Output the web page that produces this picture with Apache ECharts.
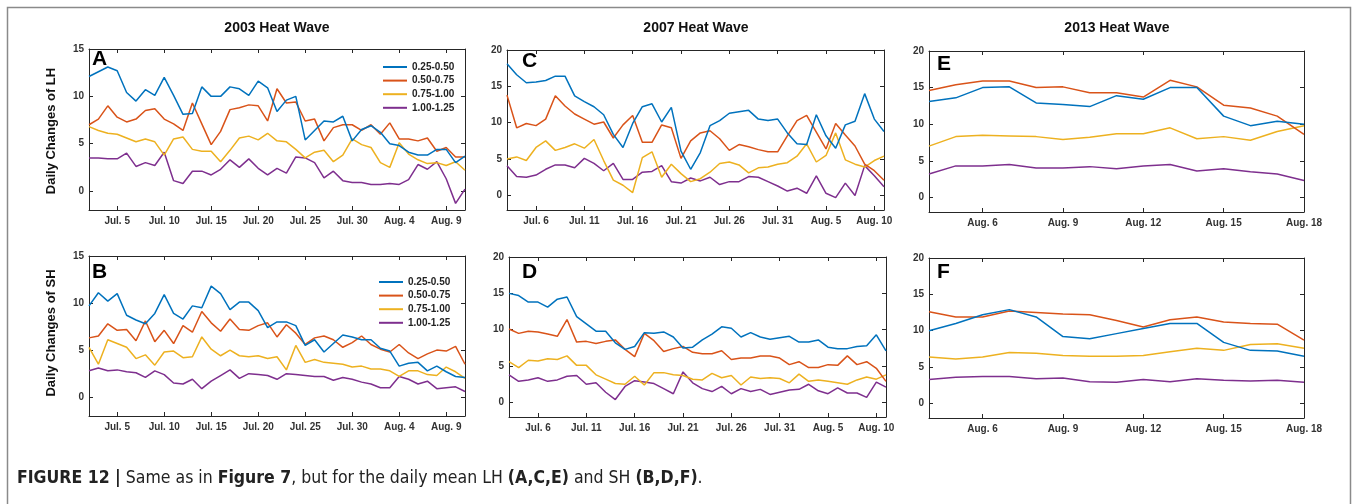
<!DOCTYPE html>
<html>
<head>
<meta charset="utf-8">
<script src="https://cdn.jsdelivr.net/npm/echarts@6/dist/echarts.min.js"></script>
<style>
  html, body {margin: 0; padding: 0; background: #fff;}
  #chart {width: 1357px; height: 504px;}
</style>
</head>
<body>
<div id="chart"></div>
<script>
// series names and colours (MATLAB default order)
var bins = ['0.25-0.50', '0.50-0.75', '0.75-1.00', '1.00-1.25'];
var colors = ['#0072BD', '#D95319', '#EDB120', '#7E2F8E'];

// x = days since Jun 30 (2003, 2007) or since Jul 31 (2013)
var start2003 = 2;   // Jul. 2
var start2007 = 3;   // Jul. 3
var start2013 = 4;   // Aug. 4

var ticks2003 = [5, 10, 15, 20, 25, 30, 35, 40];
var labels2003 = ['Jul. 5', 'Jul. 10', 'Jul. 15', 'Jul. 20', 'Jul. 25', 'Jul. 30', 'Aug. 4', 'Aug. 9'];
var ticks2007 = [6, 11, 16, 21, 26, 31, 36, 41];
var labels2007 = ['Jul. 6', 'Jul. 11', 'Jul. 16', 'Jul. 21', 'Jul. 26', 'Jul. 31', 'Aug. 5', 'Aug. 10'];
var ticks2013 = [6, 9, 12, 15, 18];
var labels2013 = ['Aug. 6', 'Aug. 9', 'Aug. 12', 'Aug. 15', 'Aug. 18'];

var yTicks15 = [0, 5, 10, 15];
var yTicks20 = [0, 5, 10, 15, 20];

// A: LH 2003
var lhA1 = [12.1, 12.6, 13.1, 12.7, 10.4, 9.5, 10.7, 10.1, 12.0, 10.1, 8.1, 8.2, 11.0, 10.0, 10.0, 11.0, 10.8, 10.1, 11.6, 10.9, 8.4, 9.6, 10.0, 5.4, 6.4, 7.4, 7.3, 7.9, 5.3, 6.5, 6.9, 6.2, 5.0, 4.8, 4.1, 3.8, 3.8, 4.4, 4.4, 3.0, 3.7];
var lhA2 = [7.0, 7.6, 9.0, 7.8, 7.3, 7.6, 8.5, 8.7, 7.6, 7.1, 6.4, 9.3, 7.1, 4.9, 6.3, 8.6, 8.8, 9.1, 9.0, 7.4, 10.8, 9.3, 9.4, 7.4, 7.6, 5.3, 6.7, 7.0, 7.0, 6.4, 7.0, 6.0, 7.2, 5.5, 5.5, 5.3, 5.6, 4.2, 4.6, 3.6, 3.6];
var lhA3 = [6.8, 6.4, 6.1, 6.0, 5.6, 5.2, 5.5, 5.2, 3.8, 5.5, 5.7, 4.4, 4.2, 4.2, 3.1, 4.3, 5.6, 5.8, 5.4, 6.1, 5.3, 5.2, 4.4, 3.5, 4.1, 4.3, 3.1, 3.8, 5.5, 4.9, 4.6, 3.0, 2.5, 5.1, 3.9, 3.3, 2.9, 3.0, 2.7, 3.1, 2.2];
var lhA4 = [3.5, 3.5, 3.4, 3.4, 4.0, 2.6, 3.0, 2.7, 4.1, 1.1, 0.8, 2.1, 2.1, 1.7, 2.3, 3.3, 2.5, 3.4, 2.4, 1.7, 2.4, 1.9, 3.6, 3.5, 3.0, 1.4, 2.1, 1.1, 0.9, 0.9, 0.7, 0.7, 0.8, 0.7, 1.2, 2.8, 2.3, 3.1, 1.3, -1.3, 0.2];

// B: SH 2003
var shB1 = [9.7, 11.1, 10.2, 11.0, 8.7, 8.2, 7.8, 8.9, 10.9, 8.9, 8.3, 9.7, 9.5, 11.8, 11.0, 9.3, 10.1, 10.1, 9.2, 7.4, 8.0, 8.0, 7.6, 5.5, 6.1, 4.8, 5.7, 6.6, 6.4, 6.1, 6.1, 5.2, 4.9, 3.3, 3.6, 3.7, 2.8, 3.3, 2.7, 2.2, 2.1];
var shB2 = [6.3, 6.5, 7.8, 7.1, 7.2, 6.0, 8.1, 5.9, 7.1, 5.7, 7.6, 6.9, 9.1, 7.9, 7.0, 8.3, 7.2, 7.1, 7.6, 7.9, 6.4, 7.7, 6.8, 5.6, 6.3, 6.5, 6.1, 5.3, 5.8, 6.5, 5.6, 5.1, 4.8, 5.6, 4.7, 4.1, 4.6, 5.0, 4.9, 5.4, 3.5];
var shB3 = [5.3, 3.5, 6.1, 5.7, 5.3, 4.1, 4.5, 3.4, 4.8, 4.9, 4.2, 4.3, 6.4, 5.1, 4.4, 5.0, 4.4, 4.3, 4.4, 4.1, 4.3, 2.9, 5.5, 3.7, 4.0, 3.7, 3.6, 3.5, 3.2, 3.3, 3.0, 3.0, 2.8, 2.2, 2.8, 2.8, 2.4, 2.3, 3.2, 2.7, 2.0];
var shB4 = [2.8, 3.1, 2.8, 2.9, 2.7, 2.6, 2.1, 2.8, 2.4, 1.5, 1.4, 1.9, 0.9, 1.7, 2.3, 2.9, 2.0, 2.5, 2.4, 2.3, 1.9, 2.5, 2.4, 2.3, 2.2, 2.2, 1.8, 2.1, 1.9, 1.6, 1.4, 1.0, 1.0, 2.2, 1.9, 1.4, 1.7, 0.9, 1.0, 1.1, 0.6];

// C: LH 2007
var lhC1 = [18.1, 16.6, 15.5, 15.6, 15.8, 16.4, 16.4, 13.7, 12.9, 12.2, 11.1, 8.4, 6.6, 9.9, 12.2, 12.6, 10.1, 12.1, 6.1, 3.6, 5.9, 9.6, 10.3, 11.3, 11.5, 11.7, 10.5, 10.3, 10.5, 8.6, 7.1, 7.0, 11.1, 8.2, 6.5, 9.7, 10.2, 14.0, 10.5, 8.8];
var lhC2 = [13.8, 9.3, 9.9, 9.6, 10.5, 13.7, 12.3, 11.2, 10.5, 9.8, 10.1, 7.9, 9.7, 11.0, 7.3, 7.3, 9.7, 9.3, 5.1, 7.5, 8.6, 8.9, 7.8, 6.2, 7.0, 6.7, 6.3, 6.0, 6.0, 8.2, 10.3, 11.0, 8.7, 6.4, 9.9, 8.3, 6.8, 4.3, 3.4, 2.1];
var lhC3 = [5.0, 5.3, 4.8, 6.6, 7.5, 6.2, 6.6, 7.1, 6.5, 7.7, 4.8, 2.1, 1.4, 0.4, 5.2, 6.0, 2.5, 4.3, 3.0, 1.9, 2.3, 3.2, 4.4, 4.6, 4.2, 3.1, 3.8, 3.9, 4.3, 4.5, 5.4, 7.1, 4.6, 5.5, 8.6, 4.9, 4.3, 3.9, 4.8, 5.4];
var lhC4 = [4.1, 2.6, 2.5, 2.8, 3.6, 4.2, 4.2, 3.8, 5.1, 4.4, 3.4, 4.4, 2.2, 2.2, 3.2, 3.3, 4.1, 1.9, 1.7, 2.4, 2.0, 2.5, 1.5, 1.9, 1.9, 2.6, 2.5, 1.9, 1.3, 0.6, 1.0, 0.3, 2.7, 0.3, -0.3, 1.7, 0.0, 4.1, 2.7, 1.2];

// D: SH 2007
var shD1 = [15.0, 14.7, 13.8, 13.8, 13.1, 14.2, 14.5, 11.8, 10.8, 9.8, 9.8, 8.2, 7.3, 7.7, 9.6, 9.5, 9.7, 9.0, 7.5, 7.6, 8.6, 9.4, 10.4, 10.2, 9.0, 9.6, 9.0, 8.7, 8.9, 9.1, 8.3, 8.3, 8.6, 7.6, 7.4, 7.4, 7.7, 7.8, 9.3, 7.1];
var shD2 = [10.1, 9.5, 9.8, 9.7, 9.4, 9.1, 11.4, 8.3, 8.4, 8.1, 8.4, 8.6, 7.3, 6.3, 9.5, 8.5, 7.0, 7.4, 7.7, 6.9, 6.7, 6.7, 7.1, 5.9, 6.1, 6.1, 6.4, 6.4, 6.1, 5.2, 5.6, 4.8, 4.8, 5.2, 5.1, 6.4, 5.2, 5.6, 4.7, 2.9];
var shD3 = [5.6, 4.8, 5.8, 5.7, 6.0, 5.9, 6.4, 5.1, 5.1, 3.8, 3.2, 2.6, 2.5, 3.6, 2.4, 4.1, 4.1, 3.8, 3.7, 3.2, 3.1, 4.0, 3.4, 3.7, 2.4, 3.5, 3.3, 3.4, 3.3, 2.7, 3.9, 2.9, 3.1, 2.9, 2.7, 2.5, 3.1, 3.5, 3.2, 3.8];
var shD4 = [3.8, 2.9, 3.1, 3.4, 2.9, 3.1, 3.6, 3.7, 2.5, 2.7, 1.4, 0.4, 2.2, 3.0, 2.8, 2.6, 1.9, 1.2, 4.2, 2.7, 1.9, 1.5, 2.2, 1.2, 1.9, 1.5, 1.8, 1.1, 1.4, 1.7, 1.8, 2.5, 1.6, 1.2, 2.0, 1.3, 1.3, 0.7, 2.8, 2.1];

// E: LH 2013
var lhE1 = [13.1, 13.6, 15.0, 15.1, 12.9, 12.7, 12.4, 13.9, 13.4, 15.0, 15.0, 11.1, 9.8, 10.4, 10.0];
var lhE2 = [14.6, 15.4, 15.9, 15.9, 15.0, 15.1, 14.3, 14.3, 13.7, 16.0, 15.1, 12.6, 12.2, 11.1, 8.6];
var lhE3 = [7.0, 8.3, 8.5, 8.4, 8.3, 7.9, 8.2, 8.7, 8.7, 9.5, 8.0, 8.3, 7.8, 9.0, 9.8];
var lhE4 = [3.2, 4.3, 4.3, 4.5, 4.0, 4.0, 4.2, 3.9, 4.3, 4.5, 3.6, 3.9, 3.5, 3.2, 2.3];

// F: SH 2013
var shF1 = [10.0, 11.0, 12.2, 12.9, 11.9, 9.2, 8.9, 9.6, 10.3, 11.0, 11.0, 8.4, 7.3, 7.2, 6.5];
var shF2 = [12.6, 11.9, 11.9, 12.7, 12.5, 12.3, 12.2, 11.4, 10.5, 11.5, 11.9, 11.2, 11.0, 10.9, 8.7];
var shF3 = [6.4, 6.1, 6.4, 7.0, 6.9, 6.6, 6.5, 6.5, 6.6, 7.1, 7.6, 7.3, 8.1, 8.2, 7.6];
var shF4 = [3.3, 3.6, 3.7, 3.7, 3.4, 3.5, 3.0, 2.9, 3.3, 3.0, 3.4, 3.2, 3.1, 3.2, 2.9];

var FONT = 'Liberation Sans, Arial, Helvetica, sans-serif';
var CAPTION_FONT = 'DejaVu Sans Condensed, Liberation Sans Narrow, sans-serif';
var AXIS_COLOR = '#262626';

var panels = [
    {letter: 'A', grid: {left: 89, top: 49, width: 376, height: 161}, start: start2003, xMax: 42,
        ticks: ticks2003, labels: labels2003, yMax: 15, yTicks: yTicks15, data: [lhA1, lhA2, lhA3, lhA4], lx: 92, ly: 49},
    {letter: 'B', grid: {left: 89, top: 256, width: 376, height: 160}, start: start2003, xMax: 42,
        ticks: ticks2003, labels: labels2003, yMax: 15, yTicks: yTicks15, data: [shB1, shB2, shB3, shB4], lx: 92, ly: 262},
    {letter: 'C', grid: {left: 507, top: 50, width: 377, height: 160}, start: start2007, xMax: 42,
        ticks: ticks2007, labels: labels2007, yMax: 20, yTicks: yTicks20, data: [lhC1, lhC2, lhC3, lhC4], lx: 522, ly: 51},
    {letter: 'D', grid: {left: 509, top: 257, width: 377, height: 160}, start: start2007, xMax: 42,
        ticks: ticks2007, labels: labels2007, yMax: 20, yTicks: yTicks20, data: [shD1, shD2, shD3, shD4], lx: 522, ly: 262},
    {letter: 'E', grid: {left: 929, top: 51, width: 375, height: 161}, start: start2013, xMax: 18,
        ticks: ticks2013, labels: labels2013, yMax: 20, yTicks: yTicks20, data: [lhE1, lhE2, lhE3, lhE4], lx: 937, ly: 54},
    {letter: 'F', grid: {left: 929, top: 258, width: 375, height: 160}, start: start2013, xMax: 18,
        ticks: ticks2013, labels: labels2013, yMax: 20, yTicks: yTicks20, data: [shF1, shF2, shF3, shF4], lx: 937, ly: 262}
];

function buildOption() {
    var grid = [], xAxis = [], yAxis = [], series = [];
    var graphic = [];
    panels.forEach(function (p, k) {
        grid.push(p.grid);
        var tickStyle = {show: true, inside: true, length: 4, customValues: p.ticks, lineStyle: {color: AXIS_COLOR}};
        var lineStyle = {show: true, onZero: false, lineStyle: {color: AXIS_COLOR, width: 1}};
        // bottom and top x axes
        xAxis.push({
            type: 'value', gridIndex: k, min: p.start, max: p.xMax, position: 'bottom',
            axisLine: lineStyle, axisTick: tickStyle, splitLine: {show: false},
            axisLabel: {
                show: true, margin: 6, customValues: p.ticks, color: '#333', fontSize: 10, fontWeight: 'bold', fontFamily: FONT,
                formatter: function (v) {
                    var i = p.ticks.indexOf(Math.round(v));
                    return i >= 0 ? p.labels[i] : '';
                }
            }
        });
        xAxis.push({
            type: 'value', gridIndex: k, min: p.start, max: p.xMax, position: 'top',
            axisLine: lineStyle, axisTick: tickStyle, axisLabel: {show: false}, splitLine: {show: false}
        });
        var yTickStyle = {show: true, inside: true, length: 4, customValues: p.yTicks, lineStyle: {color: AXIS_COLOR}};
        yAxis.push({
            type: 'value', gridIndex: k, min: -2, max: p.yMax, position: 'left',
            axisLine: lineStyle, axisTick: yTickStyle, splitLine: {show: false},
            axisLabel: {show: true, margin: 5, customValues: p.yTicks, color: '#333', fontSize: 10, fontWeight: 'bold', fontFamily: FONT}
        });
        yAxis.push({
            type: 'value', gridIndex: k, min: -2, max: p.yMax, position: 'right',
            axisLine: lineStyle, axisTick: yTickStyle, axisLabel: {show: false}, splitLine: {show: false}
        });
        p.data.forEach(function (vals, j) {
            series.push({
                name: bins[j], type: 'line', xAxisIndex: 2 * k, yAxisIndex: 2 * k,
                data: vals.map(function (v, i) { return [p.start + i, v]; }),
                showSymbol: false, symbol: 'none', silent: true,
                lineStyle: {color: colors[j], width: 1.5},
                itemStyle: {color: colors[j]},
                z: 10 - j
            });
        });
        graphic.push({
            type: 'text', left: p.lx, top: p.ly,
            style: {text: p.letter, font: 'bold 21px ' + FONT, fill: '#000'}
        });
    });

    // panel column titles
    var titles = [['2003 Heat Wave', 277], ['2007 Heat Wave', 696], ['2013 Heat Wave', 1117]];
    titles.forEach(function (t) {
        graphic.push({
            type: 'text', x: t[1], y: 28,
            style: {text: t[0], font: 'bold 14px ' + FONT, fill: '#111', align: 'center', verticalAlign: 'middle'}
        });
    });
    // y axis names
    [['Daily Changes of LH', 131], ['Daily Changes of SH', 333]].forEach(function (t) {
        graphic.push({
            type: 'text', x: 51, y: t[1], rotation: Math.PI / 2,
            style: {text: t[0], font: 'bold 13px ' + FONT, fill: '#111', align: 'center', verticalAlign: 'middle'}
        });
    });
    // figure frame and caption
    graphic.push({
        type: 'rect', shape: {x: 7.5, y: 7.5, width: 1343, height: 520},
        style: {fill: 'none', stroke: '#8a8a8a', lineWidth: 1.5}, z: -1
    });
    graphic.push({
        type: 'text', left: 17, top: 469,
        style: {
            text: '{b|FIGURE 12 |} Same as in {b|Figure 7}, but for the daily mean LH {b|(A,C,E)} and SH {b|(B,D,F)}.',
            font: '17.5px ' + CAPTION_FONT, fill: '#222',
            rich: {b: {fontWeight: 'bold', fontSize: 17.5, fontFamily: CAPTION_FONT, fill: '#222'}}
        }
    });

    var legendCommon = {
        orient: 'vertical', data: bins, icon: 'rect', itemWidth: 24, itemHeight: 2, itemGap: 3.6,
        padding: 0, selectedMode: false,
        textStyle: {fontSize: 10, fontWeight: 'bold', color: '#222', fontFamily: FONT, lineHeight: 10}
    };
    var legend = [
        Object.assign({left: 383, top: 62}, legendCommon),
        Object.assign({left: 379, top: 277}, legendCommon)
    ];

    return {
        backgroundColor: '#fff',
        animation: false,
        grid: grid, xAxis: xAxis, yAxis: yAxis, series: series,
        legend: legend, graphic: graphic
    };
}

var myChart = echarts.init(document.getElementById('chart'));
myChart.setOption(buildOption());
</script>
</body>
</html>
